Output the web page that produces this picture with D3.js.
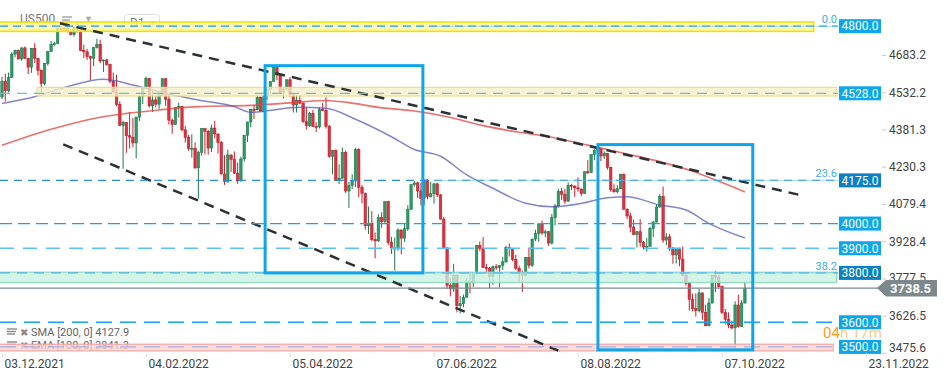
<!DOCTYPE html>
<html lang="en">
<head>
<meta charset="UTF-8">
<title>US500 D1</title>
<script src="https://d3js.org/d3.v7.min.js"></script>
<style>
  body { margin: 0; background: #fff; }
  svg { display: block; font-family: Roboto, "Noto Sans", sans-serif; }
</style>
</head>
<body>
<svg id="chart" width="949" height="378"></svg>
<script>
// daily bars 02.12.2021 .. 18.10.2022 (one per session)
var open = [
  4513, 4577, 4538, 4592, 4687, 4701, 4667, 4712, 4669, 4634,
  4710, 4669, 4621, 4568, 4649, 4697, 4726, 4730, 4791, 4786,
  4793, 4779, 4766, 4797, 4794, 4701, 4696, 4677, 4670, 4713,
  4726, 4659, 4663, 4645, 4577, 4533, 4483, 4398, 4410, 4356,
  4350, 4327, 4432, 4516, 4547, 4589, 4477, 4501, 4484, 4522,
  4587, 4504, 4419, 4402, 4471, 4475, 4380, 4349, 4305, 4305,
  4226, 4289, 4385, 4374, 4306, 4387, 4363, 4329, 4201, 4171,
  4278, 4260, 4204, 4173, 4262, 4358, 4412, 4463, 4461, 4512,
  4456, 4520, 4543, 4576, 4632, 4602, 4530, 4546, 4583, 4525,
  4481, 4500, 4488, 4413, 4397, 4447, 4393, 4392, 4462, 4459,
  4394, 4272, 4296, 4175, 4184, 4288, 4132, 4155, 4175, 4300,
  4147, 4123, 3991, 4001, 3935, 3930, 4024, 4008, 4089, 3924,
  3901, 3901, 3974, 3941, 3979, 4058, 4158, 4165, 4132, 4101,
  4177, 4109, 4121, 4161, 4116, 4018, 3901, 3750, 3735, 3790,
  3667, 3675, 3702, 3765, 3760, 3796, 3912, 3900, 3822, 3819,
  3785, 3825, 3822, 3831, 3845, 3903, 3899, 3854, 3819, 3802,
  3790, 3863, 3831, 3937, 3960, 3999, 3962, 3967, 3921, 4024,
  4072, 4130, 4119, 4091, 4155, 4152, 4145, 4140, 4122, 4210,
  4207, 4280, 4297, 4305, 4274, 4284, 4228, 4138, 4129, 4141,
  4199, 4058, 4031, 3986, 3955, 3967, 3924, 3905, 3908, 3980,
  4006, 4067, 4110, 3933, 3946, 3901, 3873, 3900, 3856, 3790,
  3758, 3693, 3655, 3647, 3719, 3640, 3586, 3678, 3791, 3783,
  3745, 3640, 3612, 3589, 3577, 3670, 3583, 3678
];
var high = [
  4595, 4608, 4612, 4694, 4705, 4705, 4713, 4718, 4672, 4712,
  4731, 4672, 4625, 4651, 4697, 4740, 4736, 4791, 4807, 4804,
  4808, 4787, 4797, 4819, 4797, 4725, 4708, 4680, 4714, 4749,
  4745, 4665, 4668, 4648, 4612, 4603, 4495, 4417, 4411, 4453,
  4428, 4432, 4516, 4550, 4595, 4590, 4540, 4521, 4531, 4590,
  4590, 4527, 4426, 4473, 4490, 4478, 4395, 4360, 4362, 4329,
  4295, 4385, 4388, 4380, 4401, 4416, 4365, 4335, 4277, 4299,
  4280, 4292, 4247, 4271, 4358, 4412, 4465, 4481, 4522, 4515,
  4520, 4546, 4576, 4637, 4635, 4610, 4549, 4583, 4593, 4527,
  4521, 4521, 4490, 4471, 4453, 4460, 4411, 4471, 4489, 4512,
  4400, 4299, 4300, 4240, 4308, 4295, 4169, 4200, 4307, 4305,
  4157, 4125, 4069, 4050, 3964, 4038, 4046, 4090, 4092, 3946,
  3944, 3981, 3976, 3999, 4075, 4158, 4172, 4170, 4166, 4177,
  4180, 4169, 4165, 4165, 4120, 4028, 3905, 3779, 3837, 3795,
  3707, 3712, 3779, 3801, 3802, 3913, 3927, 3945, 3837, 3825,
  3830, 3836, 3832, 3865, 3910, 3919, 3900, 3874, 3829, 3810,
  3864, 3903, 3939, 3975, 3999, 4012, 3975, 3970, 4039, 4078,
  4141, 4144, 4141, 4167, 4161, 4155, 4187, 4142, 4211, 4257,
  4280, 4301, 4325, 4306, 4293, 4286, 4230, 4159, 4156, 4200,
  4203, 4062, 4044, 4016, 3970, 4018, 3930, 3942, 3987, 4010,
  4077, 4119, 4150, 3961, 3959, 3905, 3900, 3902, 3907, 3800,
  3760, 3716, 3717, 3736, 3720, 3671, 3698, 3791, 3807, 3797,
  3748, 3654, 3640, 3606, 3685, 3712, 3690, 3762
];
var low = [
  4504, 4495, 4532, 4590, 4674, 4666, 4660, 4667, 4606, 4611,
  4651, 4600, 4531, 4560, 4640, 4695, 4720, 4728, 4780, 4778,
  4775, 4762, 4758, 4774, 4700, 4671, 4663, 4582, 4638, 4709,
  4650, 4614, 4640, 4568, 4531, 4475, 4396, 4222, 4287, 4304,
  4309, 4264, 4415, 4484, 4544, 4470, 4452, 4471, 4465, 4520,
  4477, 4401, 4364, 4400, 4429, 4373, 4328, 4295, 4267, 4221,
  4101, 4275, 4280, 4279, 4290, 4345, 4284, 4199, 4157, 4165,
  4209, 4202, 4161, 4170, 4251, 4330, 4390, 4424, 4460, 4455,
  4450, 4501, 4517, 4575, 4581, 4530, 4507, 4539, 4514, 4450,
  4450, 4485, 4408, 4381, 4392, 4392, 4371, 4385, 4455, 4385,
  4267, 4200, 4175, 4160, 4180, 4124, 4063, 4140, 4148, 4107,
  4082, 3975, 3958, 3929, 3859, 3925, 3983, 4000, 3913, 3877,
  3810, 3890, 3875, 3925, 3970, 4055, 4150, 4104, 4074, 4074,
  4098, 4105, 4081, 4107, 4017, 3900, 3735, 3705, 3723, 3640,
  3636, 3660, 3698, 3717, 3743, 3795, 3889, 3820, 3800, 3738,
  3752, 3812, 3742, 3812, 3840, 3867, 3847, 3812, 3759, 3722,
  3785, 3818, 3825, 3929, 3926, 3955, 3944, 3910, 3915, 3993,
  4065, 4096, 4080, 4088, 4135, 4108, 4129, 4112, 4120, 4201,
  4205, 4257, 4277, 4253, 4261, 4219, 4129, 4125, 4122, 4140,
  4057, 4018, 3965, 3954, 3903, 3906, 3895, 3886, 3906, 3945,
  4005, 4065, 3922, 3912, 3888, 3837, 3838, 3827, 3789, 3749,
  3647, 3644, 3623, 3640, 3610, 3584, 3584, 3676, 3722, 3740,
  3633, 3591, 3576, 3571, 3491, 3578, 3580, 3676
];
var close = [
  4577, 4538, 4592, 4687, 4701, 4667, 4712, 4669, 4634, 4710,
  4669, 4621, 4568, 4649, 4697, 4726, 4730, 4791, 4786, 4793,
  4779, 4766, 4797, 4794, 4701, 4696, 4677, 4670, 4713, 4726,
  4659, 4663, 4645, 4577, 4533, 4483, 4398, 4410, 4356, 4350,
  4327, 4432, 4516, 4547, 4589, 4477, 4501, 4484, 4522, 4587,
  4504, 4419, 4402, 4471, 4475, 4380, 4349, 4305, 4305, 4226,
  4289, 4385, 4374, 4306, 4387, 4363, 4329, 4201, 4171, 4278,
  4260, 4204, 4173, 4262, 4358, 4412, 4463, 4461, 4512, 4456,
  4520, 4543, 4576, 4632, 4602, 4530, 4546, 4583, 4525, 4481,
  4500, 4488, 4413, 4397, 4447, 4393, 4392, 4462, 4459, 4394,
  4272, 4296, 4175, 4184, 4288, 4132, 4155, 4175, 4300, 4147,
  4123, 3991, 4001, 3935, 3930, 4024, 4008, 4089, 3924, 3901,
  3901, 3974, 3941, 3979, 4058, 4158, 4165, 4132, 4101, 4177,
  4109, 4121, 4161, 4116, 4018, 3901, 3750, 3735, 3790, 3667,
  3675, 3702, 3765, 3760, 3796, 3912, 3900, 3822, 3819, 3785,
  3825, 3822, 3831, 3845, 3903, 3899, 3854, 3819, 3802, 3790,
  3863, 3831, 3937, 3960, 3999, 3962, 3967, 3921, 4024, 4072,
  4130, 4119, 4091, 4155, 4152, 4145, 4140, 4122, 4210, 4207,
  4280, 4297, 4305, 4274, 4284, 4228, 4138, 4129, 4141, 4199,
  4058, 4031, 3986, 3955, 3967, 3924, 3905, 3908, 3980, 4006,
  4067, 4110, 3933, 3946, 3901, 3873, 3900, 3856, 3790, 3758,
  3693, 3655, 3647, 3719, 3640, 3586, 3678, 3791, 3783, 3745,
  3640, 3612, 3589, 3577, 3670, 3583, 3678, 3738.5
];

// moving averages at some bars
var smaIdx = [0, 15, 30, 45, 60, 76, 88, 99, 106, 115, 126, 136, 146, 157, 168, 179, 190, 201, 211, 220, 227];
var smaVal = [4317, 4382, 4431, 4456, 4474, 4479, 4489, 4499, 4490, 4471, 4456, 4433, 4400, 4372, 4350, 4318, 4285, 4251, 4212, 4166, 4127.9];
var emaIdx = [0, 10, 20, 31, 40, 50, 60, 71, 76, 81, 91, 99, 108, 119, 126, 134, 142, 150, 160, 168, 177, 185, 191, 201, 209, 216, 227];
var emaVal = [4487, 4514, 4555, 4585, 4562, 4528, 4501, 4474, 4451, 4457, 4471, 4467, 4423, 4352, 4300, 4273, 4197, 4143, 4082, 4068, 4082, 4105, 4109, 4075, 4055, 4001, 3941.3];

var priceTicks = [4683.2, 4532.2, 4381.3, 4230.3, 4079.4, 3928.4, 3777.5, 3626.5, 3475.6];
var dateTicks = [0, 44, 88, 132, 176, 220, 264];
var dateLabels = ["03.12.2021", "04.02.2022", "05.04.2022", "07.06.2022", "08.08.2022", "07.10.2022", "23.11.2022"];

var levels = [4800, 4528, 4175, 4000, 3900, 3800, 3600, 3500];
var fibValues = [4800, 4175, 3800];
var fibLabels = ["0.0", "23.6", "38.2"];
var zoneTop = [4817, 4552, 3803, 3511];
var zoneBottom = [4779, 4517, 3761, 3484];
var zoneFrom = [-1, 10.7, -1, -1];
var zoneTo = [248, 255, 255, 254];
var lastPrice = 3738.5;
var trendUpper = [[17.7, 4811.7], [243.8, 4115.8]];
var trendLower = [[18.7, 4321.3], [170, 3484.7]];
var boxes = [[80.4, 128.6, 4640, 3800], [182.1, 229.4, 4320, 3488]];

var svg = d3.select("#chart");
var plotW = 838, plotH = 353;

var x = d3.scaleLinear().domain([0, 264]).range([2, 866]);
var y = d3.scaleLinear().domain([3475.6, 4683.2]).range([352.95, 55]);

svg.append("defs").append("clipPath").attr("id", "plot")
  .append("rect").attr("x", 0).attr("y", 0).attr("width", plotW).attr("height", plotH);

// legends (drawn first, zones cover them)
var leg = svg.append("g").attr("fill", "#777").style("font-size", "12px");
leg.append("text").attr("x", 20).attr("y", 23).text("US500");
[17, 20, 23].forEach(function (yy, k) {
  leg.append("line").attr("x1", 62).attr("x2", 72 - k * 2).attr("y1", yy).attr("y2", yy)
    .attr("stroke", "#999").attr("stroke-width", 1.3);
});
leg.append("text").attr("x", 84).attr("y", 22).attr("fill", "#aaa").style("font-size", "9px").text("▼");
leg.append("rect").attr("x", 124.5).attr("y", 14.5).attr("width", 35).attr("height", 17).attr("rx", 3)
  .attr("fill", "none").attr("stroke", "#ddd");
leg.append("text").attr("x", 130).attr("y", 27).text("D1");
leg.append("text").attr("x", 149).attr("y", 26).attr("fill", "#aaa").style("font-size", "8px").text("▼");

var maLeg = svg.append("g").attr("fill", "#666").style("font-size", "11px");
[["SMA  [200,  0]  4127.9", 336], ["EMA  [100,  0]  3941.3", 349]].forEach(function (t) {
  var yy = t[1];
  [-7, -4.5, -2].forEach(function (d, k) {
    maLeg.append("line").attr("x1", 7).attr("x2", 17 - k).attr("y1", yy + d).attr("y2", yy + d)
      .attr("stroke", "#888").attr("stroke-width", 1.4);
  });
  maLeg.append("text").attr("x", 20).attr("y", yy).attr("fill", "#888").style("font-size", "10px").text("✖");
  maLeg.append("text").attr("x", 31).attr("y", yy).text(t[0]);
});

var plot = svg.append("g").attr("clip-path", "url(#plot)");

// candles
var bars = plot.append("g").selectAll("g").data(d3.range(close.length)).join("g");
bars.append("line")
  .attr("x1", function (i) { return x(i); }).attr("x2", function (i) { return x(i); })
  .attr("y1", function (i) { return y(high[i]); }).attr("y2", function (i) { return y(low[i]); })
  .attr("stroke", function (i) { return close[i] >= open[i] ? "#1f7a4c" : "#c9202f"; })
  .attr("stroke-width", 1);
bars.append("rect")
  .attr("x", function (i) { return x(i) - 1.2; })
  .attr("width", 2.4)
  .attr("y", function (i) { return y(Math.max(open[i], close[i])); })
  .attr("height", function (i) { return Math.max(1, Math.abs(y(open[i]) - y(close[i]))); })
  .attr("fill", function (i) { return close[i] >= open[i] ? "#2e9c68" : "#e3303f"; })
  .attr("stroke", function (i) { return close[i] >= open[i] ? "#1f7a4c" : "#b81f2c"; })
  .attr("stroke-width", 0.6);

// moving averages
var maLine = d3.line().curve(d3.curveMonotoneX)
  .x(function (d) { return x(d[0]); }).y(function (d) { return y(d[1]); });
plot.append("path").datum(d3.zip(smaIdx, smaVal)).attr("d", maLine)
  .attr("fill", "none").attr("stroke", "#e2433f").attr("stroke-opacity", 0.75).attr("stroke-width", 1.6);
plot.append("path").datum(d3.zip(emaIdx, emaVal)).attr("d", maLine)
  .attr("fill", "none").attr("stroke", "#4f52b0").attr("stroke-opacity", 0.7).attr("stroke-width", 1.5);

// zones
var zoneFill = ["#fff5a0", "#f8f0c6", "#c9f1e1", "#fbd2d2"];
var zoneLine = ["#f2e000", "#ebdd90", "#8fdcc1", "#f1a5a5"];
zoneTop.forEach(function (v, k) {
  plot.append("rect")
    .attr("x", x(zoneFrom[k])).attr("width", x(zoneTo[k]) - x(zoneFrom[k]))
    .attr("y", y(v)).attr("height", y(zoneBottom[k]) - y(v))
    .attr("fill", zoneFill[k]).attr("fill-opacity", 0.78)
    .attr("stroke", zoneLine[k]).attr("stroke-width", k === 0 ? 1.6 : 1.2);
});

// horizontal levels
var lvColor = {4800: "#1c9de6", 4528: "#5ec3d6", 4175: "#2b90d8", 4000: "#1aa2f0", 3900: "#5cc2f4", 3800: "#4ab5dc", 3600: "#1aa2f0", 3500: "#a8aedb"};
var lvDash = {4800: "8,5", 4528: "10,7", 4175: "8,6", 4000: "12,6", 3900: "14,9", 3800: "10,7", 3600: "16,8", 3500: "16,8"};
levels.forEach(function (v) {
  svg.append("line").attr("x1", 0).attr("x2", plotW).attr("y1", y(v)).attr("y2", y(v))
    .attr("stroke", lvColor[v]).attr("stroke-width", 1.3).attr("stroke-dasharray", lvDash[v]);
});

// fibo lines
fibValues.forEach(function (v, k) {
  svg.append("line").attr("x1", x(132)).attr("x2", plotW).attr("y1", y(v)).attr("y2", y(v))
    .attr("stroke", "#6cc6ee").attr("stroke-opacity", 0.6).attr("stroke-width", 1);
  svg.append("text").attr("x", 837).attr("y", y(v) - 3).attr("text-anchor", "end")
    .attr("fill", "#3aaee8").style("font-size", "11px").text(fibLabels[k]);
});

// last price line
svg.append("line").attr("x1", 0).attr("x2", 878).attr("y1", y(lastPrice)).attr("y2", y(lastPrice))
  .attr("stroke", "#7d8b8f").attr("stroke-width", 1.2);

// trend lines
var tl = d3.line().x(function (d) { return x(d[0]); }).y(function (d) { return y(d[1]); });
[trendUpper, trendLower].forEach(function (t) {
  plot.append("path").attr("d", tl(t)).attr("fill", "none")
    .attr("stroke", "#2c3135").attr("stroke-width", 2.5).attr("stroke-dasharray", "10,7");
});

// rectangles
boxes.forEach(function (b) {
  svg.append("rect").attr("x", x(b[0])).attr("y", y(b[2]))
    .attr("width", x(b[1]) - x(b[0])).attr("height", y(b[3]) - y(b[2]))
    .attr("fill", "none").attr("stroke", "#0ea5ec").attr("stroke-width", 3);
});

// countdown text
var cd = svg.append("text").attr("x", 823).attr("y", 338).style("font-size", "15px").attr("fill", "#ff9a1f");
cd.append("tspan").text("04");
cd.append("tspan").attr("fill-opacity", 0.55).text("h 17m");

// level price boxes
var dark = [4175, 3800];
levels.forEach(function (v) {
  var g = svg.append("g").attr("transform", "translate(839," + y(v) + ")");
  g.append("rect").attr("x", 0).attr("y", -7).attr("width", 42).attr("height", 14)
    .attr("fill", dark.indexOf(v) >= 0 ? "#0b81c6" : "#0ea6ef");
  g.append("text").attr("x", 21).attr("y", 4.3).attr("text-anchor", "middle")
    .attr("fill", "#fff").style("font-size", "12px").text(d3.format(".1f")(v));
});

// right axis
var yAxis = svg.append("g").attr("transform", "translate(882,0)")
  .call(d3.axisRight(y).tickValues(priceTicks).tickFormat(d3.format(".1f")).tickSize(4).tickPadding(3));
yAxis.select(".domain").remove();
yAxis.selectAll(".tick line").attr("stroke", "#ccc");
yAxis.selectAll(".tick text").attr("fill", "#444").style("font-size", "12px").style("font-family", "Roboto");
yAxis.selectAll(".tick").filter(function (d) { return d === 3475.6; }).select("text").attr("y", -5);
yAxis.selectAll(".tick").filter(function (d) { return d === 3777.5; }).select("text").attr("y", -1);

// last price marker
var ly = y(lastPrice);
svg.append("path")
  .attr("d", "M877," + ly + "L886," + (ly - 8) + "L937," + (ly - 8) + "L937," + (ly + 8.5) + "L886," + (ly + 8.5) + "Z")
  .attr("fill", "#7b898d");
svg.append("text").attr("x", 890).attr("y", ly + 5).attr("fill", "#fff")
  .style("font-size", "13px").style("font-weight", "bold").text(d3.format(".1f")(lastPrice));

// date axis
var xAxis = svg.append("g").attr("transform", "translate(0," + plotH + ")")
  .call(d3.axisBottom(x).tickValues(dateTicks).tickFormat(function (d, i) { return dateLabels[i]; }).tickSize(4).tickPadding(2));
xAxis.select(".domain").remove();
xAxis.selectAll(".tick line").attr("stroke", "#ddd");
xAxis.selectAll(".tick text").attr("text-anchor", "start").attr("x", 2)
  .attr("fill", "#444").style("font-size", "12px").style("font-family", "Roboto");
</script>
</body>
</html>
